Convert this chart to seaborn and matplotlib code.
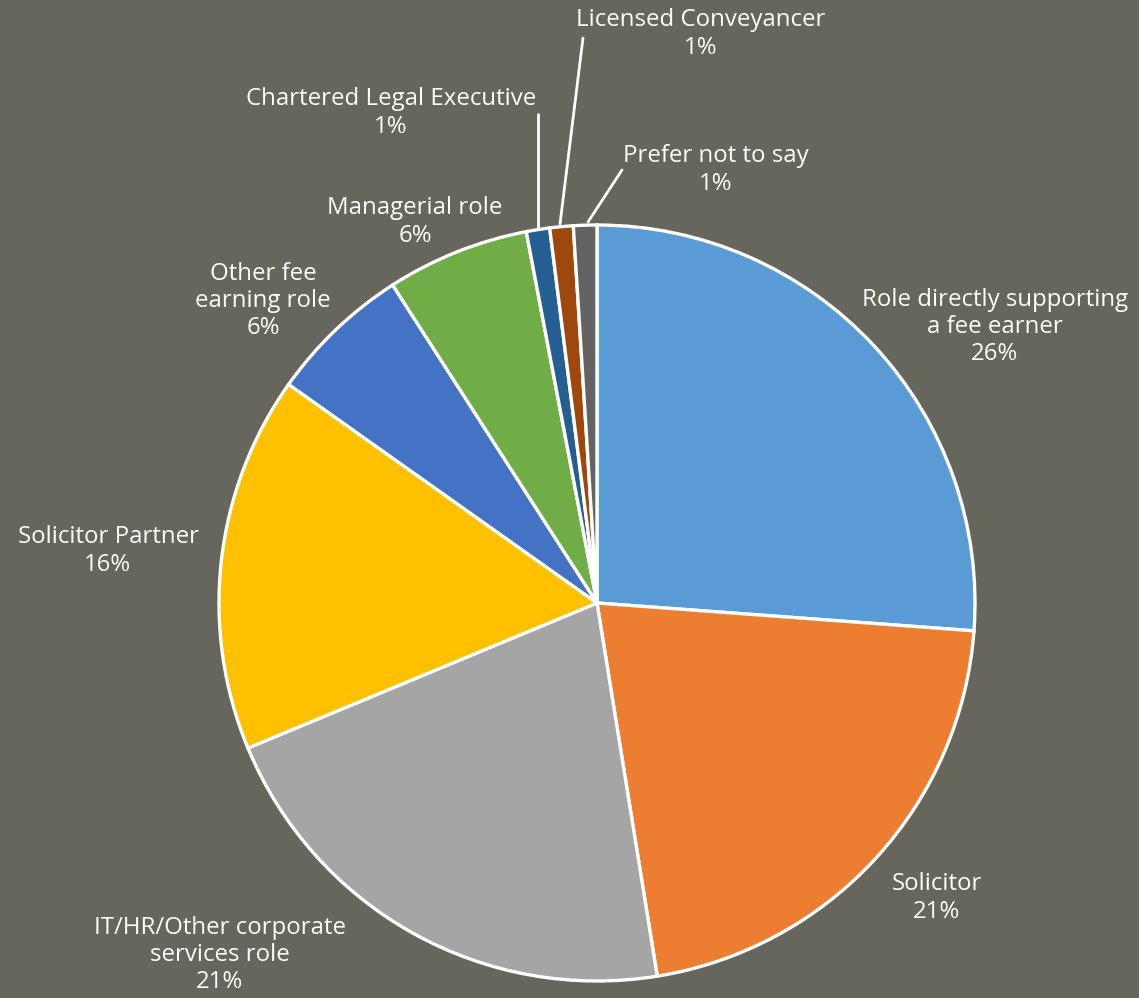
import matplotlib
matplotlib.use("Agg")
import matplotlib.pyplot as plt
import seaborn as sns

# data (clockwise from 12 o'clock)
roles = [
    "Role directly supporting\na fee earner",
    "Solicitor",
    "IT/HR/Other corporate\nservices role",
    "Solicitor Partner",
    "Other fee\nearning role",
    "Managerial role",
    "Chartered Legal Executive",
    "Licensed Conveyancer",
    "Prefer not to say",
]
shares = [26.2, 21.3, 21.3, 16.1, 6.1, 6.1, 1.0, 1.0, 1.0]
colors = ["#5B9BD5", "#ED7D31", "#A5A5A5", "#FFC000", "#4472C4",
          "#70AD47", "#255E91", "#9E480E", "#636363"]

BG = "#67665D"
W, H = 1139, 998

# label placement in pixel coords (layout only)
label_pos = [(995, 327), (937, 898), (220, 955), (108, 551), (263, 301),
             (415, 222), (391, 113), (701, 34), (716, 170)]
# leader lines for the thin slices: (slice end, label end)
leaders = {6: ((538, 227), (538, 114)),
           7: ((560, 224), (583, 38)),
           8: ((588, 222), (622, 170))}

sns.set_theme(style="dark")
plt.rcParams["font.family"] = ["Open Sans", "DejaVu Sans"]
palette = sns.color_palette(colors)

fig = plt.figure(figsize=(W / 100, H / 100), dpi=100, facecolor=BG)
ax = fig.add_axes([0, 0, 1, 1])
ax.set_facecolor(BG)

ax.pie(shares, colors=palette, startangle=90, counterclock=False,
       center=(597, H - 603), radius=378,
       wedgeprops=dict(edgecolor="white", linewidth=2.4))

for i, (name, v) in enumerate(zip(roles, shares)):
    x, y = label_pos[i]
    ax.text(x, H - y, f"{name}\n{v:.0f}%", ha="center", va="center",
            color="white", fontsize=17.3, linespacing=1.17)

for i, (p0, p1) in leaders.items():
    ax.plot([p0[0], p1[0]], [H - p0[1], H - p1[1]], color="white", lw=2)

ax.set_xlim(0, W)
ax.set_ylim(0, H)
ax.set_aspect("equal")
ax.axis("off")

fig.savefig("out.png", dpi=100, facecolor=BG)
